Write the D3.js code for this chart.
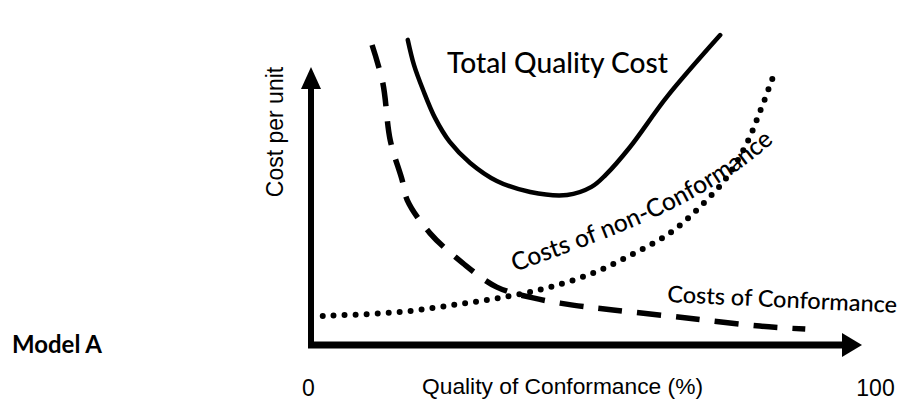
<!DOCTYPE html>
<html>
<head>
<meta charset="utf-8">
<script src="https://cdn.jsdelivr.net/npm/d3@7"></script>
<style>
  html, body { margin: 0; padding: 0; background: #fff; }
  svg { display: block; }
</style>
</head>
<body>
<svg id="chart" width="906" height="401"></svg>
<script>
// ---- Data (quality of conformance %, cost per unit in arbitrary units) ----
const xTickLabels = ["0", "100"];
const xTickValues = [0, 100];

const conformanceX = [11.3, 13.2, 14.5, 16.6, 17.5, 21.5, 27.3, 33.3, 39.7, 46.7, 53.8, 66.8, 79.7, 87.7];
const conformanceY = [100, 87.3, 68.3, 55.0, 48.3, 37.3, 27.3, 19.3, 15.7, 13.3, 11.7, 9.0, 6.3, 5.3];

const nonConformanceX = [2.6, 16.2, 28.0, 35.6, 42.7, 50.3, 57.3, 63.8, 69.1, 73.9, 77.4, 79.7, 82.0];
const nonConformanceY = [9.7, 11.0, 14.0, 16.3, 19.3, 24.0, 30.3, 37.3, 46.0, 56.0, 67.3, 77.7, 89.3];

const totalX = [17.6, 18.7, 20.3, 22.4, 25.0, 28.6, 33.3, 39.2, 45.7, 50.0, 52.5, 56.8, 63.3, 72.7];
const totalY = [101.7, 93.3, 85, 75.7, 67.7, 60.7, 54.7, 51, 50, 52.7, 56.7, 66, 82.7, 103.3];

const seriesNames = ["Total Quality Cost", "Costs of non-Conformance", "Costs of Conformance"];

// ---- Scales ----
const svg = d3.select("#chart");
const x = d3.scaleLinear().domain([0, 100]).range([308, 875]);
const y = d3.scaleLinear().domain([0, 100]).range([345, 45]);

const handFont = "Lato, 'DejaVu Sans', sans-serif";
const plainFont = "'Liberation Sans', Arial, sans-serif";

// ---- Axes (drawn with arrows) ----
const axisY0 = y(0);
const axisX0 = 311;
const xEnd = 862;
const yTop = 67;

svg.append("line")
  .attr("x1", axisX0).attr("y1", axisY0 + 3)
  .attr("x2", axisX0).attr("y2", yTop + 14)
  .attr("stroke", "#000").attr("stroke-width", 6);
svg.append("path")
  .attr("d", `M${axisX0},${yTop} L${axisX0 - 10},${yTop + 22} L${axisX0 + 10},${yTop + 22} Z`)
  .attr("fill", "#000");

svg.append("line")
  .attr("x1", axisX0 - 3).attr("y1", axisY0)
  .attr("x2", xEnd - 14).attr("y2", axisY0)
  .attr("stroke", "#000").attr("stroke-width", 7);
svg.append("path")
  .attr("d", `M${xEnd},${axisY0} L${xEnd - 20},${axisY0 - 12} L${xEnd - 20},${axisY0 + 12} Z`)
  .attr("fill", "#000");

// tick labels via d3 axis
const xAxis = d3.axisBottom(x)
  .tickValues(xTickValues)
  .tickFormat((d, i) => xTickLabels[i])
  .tickSize(0)
  .tickPadding(0);
const gx = svg.append("g").attr("transform", "translate(0,380)").call(xAxis);
gx.select(".domain").remove();
gx.selectAll("text")
  .attr("font-family", plainFont)
  .attr("font-size", 23)
  .attr("fill", "#000")
  .attr("dy", "0.71em");

// axis titles
svg.append("text")
  .attr("x", 422).attr("y", 394)
  .attr("font-family", plainFont).attr("font-size", 22)
  .attr("textLength", 281).attr("lengthAdjust", "spacingAndGlyphs")
  .text("Quality of Conformance (%)");

svg.append("text")
  .attr("transform", "translate(283,132) rotate(-90)")
  .attr("text-anchor", "middle")
  .attr("font-family", plainFont).attr("font-size", 23)
  .text("Cost per unit");

svg.append("text")
  .attr("x", 12).attr("y", 353)
  .attr("font-family", handFont).attr("font-size", 24).attr("font-weight", "bold")
  .attr("textLength", 90).attr("lengthAdjust", "spacingAndGlyphs")
  .text("Model A");

// ---- Curves ----
const line = d3.line()
  .x(d => x(d[0]))
  .y(d => y(d[1]))
  .curve(d3.curveCatmullRom.alpha(0.5));

const toPts = (xs, ys) => xs.map((v, i) => [v, ys[i]]);

svg.append("path")
  .datum(toPts(conformanceX, conformanceY))
  .attr("d", line)
  .attr("fill", "none").attr("stroke", "#000")
  .attr("stroke-width", 5.5)
  .attr("stroke-dasharray", "24 15");

svg.append("path")
  .datum(toPts(nonConformanceX, nonConformanceY))
  .attr("d", line)
  .attr("fill", "none").attr("stroke", "#000")
  .attr("stroke-width", 6)
  .attr("stroke-linecap", "round")
  .attr("stroke-dasharray", "0 11");

svg.append("path")
  .datum(toPts(totalX, totalY))
  .attr("d", line)
  .attr("fill", "none").attr("stroke", "#000")
  .attr("stroke-width", 4.5)
  .attr("stroke-linecap", "round");

// ---- Series labels ----
svg.append("text")
  .attr("x", 447).attr("y", 73)
  .attr("font-family", handFont).attr("font-size", 28).attr("font-weight", 500)
  .attr("textLength", 221).attr("lengthAdjust", "spacingAndGlyphs")
  .text(seriesNames[0]);

svg.append("text")
  .attr("transform", "translate(667,302) rotate(2.7)")
  .attr("font-family", handFont).attr("font-size", 23).attr("font-weight", 500)
  .attr("textLength", 230).attr("lengthAdjust", "spacingAndGlyphs")
  .text(seriesNames[2]);

svg.append("defs").append("path")
  .attr("id", "ncPath")
  .attr("d", "M515,272 C600,240 700,210 778,138");
svg.append("text")
  .attr("font-family", handFont).attr("font-size", 25).attr("font-weight", 500)
  .append("textPath")
  .attr("href", "#ncPath")
  .attr("textLength", 292).attr("lengthAdjust", "spacingAndGlyphs")
  .text(seriesNames[1]);
</script>
</body>
</html>
